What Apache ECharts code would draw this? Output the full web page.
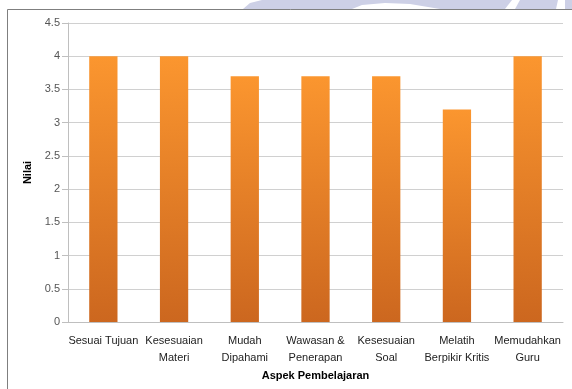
<!DOCTYPE html>
<html><head><meta charset="utf-8">
<script src="https://cdn.jsdelivr.net/npm/echarts@6/dist/echarts.min.js"></script>
<style>html,body{margin:0;padding:0;background:#fff}#c{width:572px;height:389px}</style>
</head><body><div id="c"></div>
<script>
const categories = ['Sesuai Tujuan','Kesesuaian\nMateri','Mudah\nDipahami','Wawasan &\nPenerapan','Kesesuaian\nSoal','Melatih\nBerpikir Kritis','Memudahkan\nGuru'];
const values = [4, 4, 3.7, 3.7, 3.7, 3.2, 4];
const yTicks = ['0','0.5','1','1.5','2','2.5','3','3.5','4','4.5'];

const chart = echarts.init(document.getElementById('c'), null, {renderer:'canvas'});
const font = '"Liberation Sans", Arial, sans-serif';
chart.setOption({
  animation:false,
  backgroundColor:'#fff',
  graphic:[
    {type:'polygon', shape:{points:[[243,9],[250,3],[262,0],[352,0],[352,9]]}, style:{fill:'#cdd0e6'}, silent:true},
    {type:'polygon', shape:{points:[[352,9],[362,5],[385,3],[410,4],[440,9],[440,0],[352,0]]}, style:{fill:'#cdd0e6'}, silent:true},
    {type:'polygon', shape:{points:[[440,0],[512,0],[505,9],[440,9]]}, style:{fill:'#cdd0e6'}, silent:true},
    {type:'polygon', shape:{points:[[520,0],[558,0],[556,9],[515,9]]}, style:{fill:'#cdd0e6'}, silent:true},
    {type:'rect', shape:{x:565,y:0,width:7,height:9}, style:{fill:'#cdd0e6'}, silent:true},
    {type:'rect', shape:{x:7.5,y:9.5,width:600,height:400}, style:{fill:'none', stroke:'#7f7f7f', lineWidth:1}, silent:true}
  ],
  grid:{left:68, right:9, top:23, bottom:67, containLabel:false},
  xAxis:{
    type:'category', data:categories,
    name:'Aspek Pembelajaran', nameLocation:'middle', nameGap:47,
    nameTextStyle:{fontFamily:font, fontSize:11, fontWeight:'bold', color:'#000'},
    axisLine:{lineStyle:{color:'#bfbfbf'}},
    axisTick:{show:false},
    axisLabel:{fontFamily:font, fontSize:11, color:'#222', interval:0, margin:10, lineHeight:17}
  },
  yAxis:{
    type:'value', min:0, max:4.5, interval:0.5,
    name:'Nilai', nameLocation:'middle', nameGap:32,
    nameTextStyle:{fontFamily:font, fontSize:11, fontWeight:'bold', color:'#000'},
    axisLine:{show:true, lineStyle:{color:'#bfbfbf'}},
    axisTick:{show:true, length:6, lineStyle:{color:'#bfbfbf'}},
    splitLine:{lineStyle:{color:'#d0d0d0'}},
    axisLabel:{fontFamily:font, fontSize:11, color:'#555', margin:8,
      formatter:function(v){ const s = yTicks.find(t=>Math.abs(parseFloat(t)-v)<1e-9); return s!==undefined?s:String(v); }}
  },
  series:[{
    type:'bar', data:values, barWidth:'40%',
    itemStyle:{color:new echarts.graphic.LinearGradient(0,0,0,1,[{offset:0,color:'#fb962f'},{offset:1,color:'#cc671f'}])}
  }]
});
</script></body></html>
